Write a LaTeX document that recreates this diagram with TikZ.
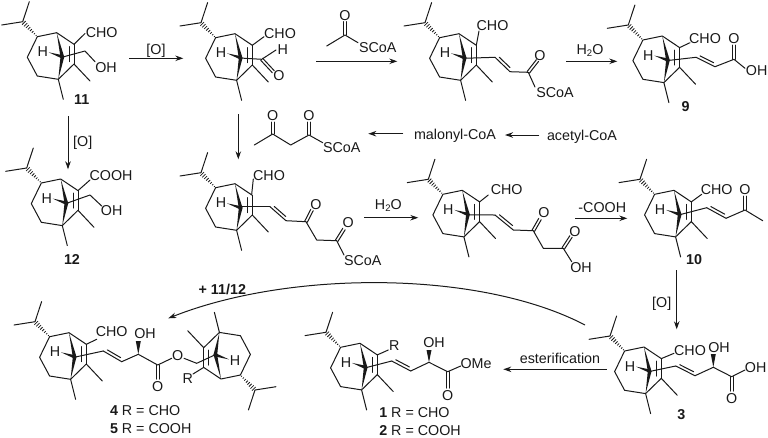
\documentclass[tikz,border=0pt]{standalone}
\usepackage{fontspec}
\setmainfont{Liberation Sans}
\usetikzlibrary{calc,arrows.meta}
\newcommand\dbl[3]{\draw[bond] #1 -- #2; \draw[bond] ($#1!0.14!#2!#3!90:#2$) -- ($#1!0.86!#2!#3!90:#2$);}
\newcommand\dsym[2]{\draw[bond] ($#1!1.4pt!90:#2$) -- ($#2!1.4pt!-90:#1$); \draw[bond] ($#1!1.4pt!-90:#2$) -- ($#2!1.4pt!90:#1$);}
\newcommand\subtwo{\raisebox{-2.5pt}{\fontsize{9.5}{9.5}\selectfont 2}}
\tikzset{
  bond/.style={line width=1pt,line cap=round,line join=round,draw=black!90},
  rxn/.style={line width=1pt,draw=black!90,-{Stealth[length=8pt,width=5.5pt]}},
  lab/.style={inner sep=0pt,outer sep=0pt,text height=10.3pt,text depth=0pt,font=\fontsize{14.3}{14.3}\selectfont,text=black!90},
  skel/.pic={
    \draw[bond] (0,0) -- (-21,3.3) (0,0) -- (6.6,-20);
    \foreach \t/\w in {0.08/2.6,0.2/2.3,0.32/2.0,0.44/1.7,0.56/1.4,0.68/1.1,0.8/0.8,0.92/0.5}
      \draw[line width=0.8pt,draw=black!90] ({14.6*\t+0.7*\w},{15*\t-0.7*\w}) -- ({14.6*\t-0.7*\w},{15*\t+0.7*\w});
    \draw[bond] (14.6,15) -- (34,11) -- (51.3,22.6) (14.6,15) -- (4.6,35.6) -- (14.6,54.3) -- (35.6,57.6) -- (51.3,42.3) -- (67.3,59.3) (35.6,57.6) -- (40.6,77.6);
    \draw[bond] (51.3,22.6) -- (51.3,42.3) (46.3,25) -- (46.3,40);
    \fill[black!90] (34,11) -- (37.8,35.5) -- (41.6,35.5) -- cycle;
    \fill[black!90] (35.6,57.6) -- (37.8,35) -- (41.6,35) -- cycle;
    \fill[black!90] (26,30.6) -- (39.5,33.4) -- (38.5,36.4) -- cycle;
    \node[lab] (H) at (20,30) {H};
  }
}
\begin{document}
\begin{tikzpicture}[x=1pt,y=-1pt]
\useasboundingbox (0,0) rectangle (768,437);
\fill[white] (0,0) rectangle (768,437);
% skeletons
\pic (s11) at (22.7,21.7) {skel};
\pic (sa) at (201,22.7) {skel};
\pic (sb) at (425,22.7) {skel};
\pic (s9) at (628.3,25) {skel};
\pic (s12) at (26.7,168) {skel};
\pic (sc) at (201,172.7) {skel};
\pic (sd) at (428.3,179.3) {skel};
\pic (s10) at (640,179.3) {skel};
\pic (s4) at (35,321.7) {skel};
\pic (s4b) [rotate=180] at (255,390) {skel};
\pic (s1) at (326,332.3) {skel};
\pic (s3) at (610,336) {skel};
% 11
\draw[bond] (74,44.3) -- (85,33.5);
\draw[bond] (61.7,57.3) -- (85,51) -- (95,61.7);
\node[lab] (n11cho) at (101.7,32.7) {CHO};
\node[lab] (n11oh) at (106,67.3) {OH};
\node[lab,font=\fontsize{14.3}{14.3}\selectfont\bfseries] (n11) at (81.7,99.3) {11};
% aldehyde intermediate
\draw[bond] (252.3,45.3) -- (264,36.7);
\draw[bond] (240,58) -- (261.7,59.3) -- (276,50);
\dsym{(261.7,59.3)}{(273.3,71.7)}
\node[lab] (nacho) at (280,33.7) {CHO};
\node[lab] (nah) at (282.7,49.3) {H};
\node[lab] (nao) at (279,75) {O};
% acetyl SCoA
\draw[bond] (326.7,46) -- (345,35) -- (358,42.7);
\dsym{(345,35)}{(345,21.5)}
\node[lab] (raco) at (345,15) {O};
\node[lab] (racs) at (377.7,47.3) {SCoA};
% top third
\draw[bond] (476.3,45.3) -- (479,31);
\draw[bond] (464,58.3) -- (495,57.3);
\dbl{(495,57.3)}{(510,71.7)}{3pt}
\draw[bond] (510,71.7) -- (528.3,72.3) -- (535,87);
\dsym{(528.3,72.3)}{(537.5,60.5)}
\node[lab] (nbcho) at (492.5,25) {CHO};
\node[lab] (nbo) at (540,55) {O};
\node[lab] (nbs) at (555,92.7) {SCoA};
% 9
\draw[bond] (679.6,47.6) -- (690,42.7);
\draw[bond] (667,60.6) -- (696,57.3);
\dbl{(696,57.3)}{(715,66.7)}{3pt}
\draw[bond] (715,66.7) -- (734,59.3) -- (745,68.3);
\dsym{(734,59.3)}{(734,45)}
\node[lab] (n9cho) at (705,38.3) {CHO};
\node[lab] (n9o) at (734,38.3) {O};
\node[lab] (n9oh) at (756.7,70.7) {OH};
\node[lab,font=\fontsize{14.3}{14.3}\selectfont\bfseries] (n9) at (685.7,106.7) {9};
% 12
\draw[bond] (78,190.6) -- (90,180);
\draw[bond] (65.7,203.6) -- (90,195) -- (101.7,206);
\node[lab] (n12c) at (111,175.7) {COOH};
\node[lab] (n12oh) at (111.7,210) {OH};
\node[lab,font=\fontsize{14.3}{14.3}\selectfont\bfseries] (n12) at (72,259) {12};
% middle C
\draw[bond] (251.7,194.3) -- (253.3,179);
\draw[bond] (240,206.7) -- (270,206.7);
\dbl{(270,206.7)}{(286,220.7)}{3pt}
\draw[bond] (286,220.7) -- (306,221.7) -- (316.7,240) -- (336.7,240.7) -- (344,255);
\dsym{(306,221.7)}{(312,210)}
\dsym{(336.7,240.7)}{(344,229)}
\node[lab] (nccho) at (269,175) {CHO};
\node[lab] (nco1) at (316,204.3) {O};
\node[lab] (nco2) at (348.3,222.7) {O};
\node[lab] (ncs) at (362.7,260) {SCoA};
% acetoacetyl
\draw[bond] (254.3,145) -- (272.7,134) -- (290.7,145) -- (309,135) -- (322.7,142.7);
\dsym{(272.7,134)}{(272.7,122)}
\dsym{(309,135)}{(309,122)}
\node[lab] (rmo1) at (272.7,115.7) {O};
\node[lab] (rmo2) at (309,115.7) {O};
\node[lab] (rms) at (341.7,147.7) {SCoA};
\node[lab] (rmal) at (455,134) {malonyl-CoA};
\node[lab] (race) at (582,135) {acetyl-CoA};
% middle D
\draw[bond] (479.6,201.9) -- (488.3,195);
\draw[bond] (467.3,214.9) -- (495,215);
\dbl{(495,215)}{(513.3,230)}{3pt}
\draw[bond] (513.3,230) -- (533.3,230.7) -- (543.3,248.3) -- (563.3,248.3) -- (571.7,261.7);
\dsym{(533.3,230.7)}{(540,219)}
\dsym{(563.3,248.3)}{(571,236.5)}
\node[lab] (ndcho) at (506.7,189) {CHO};
\node[lab] (ndo1) at (544,212.7) {O};
\node[lab] (ndo2) at (575,231) {O};
\node[lab] (ndoh) at (581,267.3) {OH};
% 10
\draw[bond] (691.3,201.9) -- (701.7,194.3);
\draw[bond] (679,214.9) -- (706.7,207.7);
\dbl{(706.7,207.7)}{(726,218.3)}{3pt}
\draw[bond] (726,218.3) -- (745,210) -- (762.7,220.7);
\dsym{(745,210)}{(745,196)}
\node[lab] (n10cho) at (716.7,189.3) {CHO};
\node[lab] (n10o) at (745,189.3) {O};
\node[lab,font=\fontsize{14.3}{14.3}\selectfont\bfseries] (n10) at (694,259) {10};
% 3
\draw[bond] (661.3,358.6) -- (674,353.3);
\draw[bond] (649,371.6) -- (675.7,366);
\dbl{(675.7,366)}{(695,375.7)}{3pt}
\draw[bond] (695,375.7) -- (713.3,367.3) -- (731.7,376.7) -- (745,370);
\dsym{(731.7,376.7)}{(731.7,391)}
\fill[black!90] (713.3,367.3) -- (710.8,354) -- (715.8,354) -- cycle;
\node[lab] (n3cho) at (690,350) {CHO};
\node[lab] (n3oh1) at (719,347.3) {OH};
\node[lab] (n3oh2) at (755.7,367.3) {OH};
\node[lab] (n3o) at (731.7,398.3) {O};
\node[lab,font=\fontsize{14.3}{14.3}\selectfont\bfseries] (n3) at (681.3,414) {3};
% 1
\draw[bond] (377.3,354.9) -- (388.3,350);
\draw[bond] (365,367.9) -- (391.7,361);
\dbl{(391.7,361)}{(410.7,371)}{3pt}
\draw[bond] (410.7,371) -- (429,362.3) -- (447.7,371.7) -- (460.7,366);
\dsym{(447.7,371.7)}{(447.7,388)}
\fill[black!90] (429,362.3) -- (426.5,350) -- (431.5,350) -- cycle;
\node[lab] (n1r) at (394.3,345.7) {R};
\node[lab] (n1oh) at (434,342.7) {OH};
\node[lab] (n1ome) at (476,363.3) {OMe};
\node[lab] (n1o) at (447.7,395) {O};
\node[lab,anchor=west] (n1) at (379.3,412.7) {\textbf{1} R = CHO};
\node[lab,anchor=west] (n2) at (379.3,430) {\textbf{2} R = COOH};
% 4/5
\draw[bond] (86.3,344.3) -- (96.7,339.3);
\draw[bond] (74,357.3) -- (103.3,351);
\dbl{(103.3,351)}{(121.7,361.7)}{3pt}
\draw[bond] (121.7,361.7) -- (138.3,354.3) -- (157.7,365) -- (171.7,358.3);
\dsym{(157.7,365)}{(157.7,379)}
\fill[black!90] (138.3,354.3) -- (135.8,341) -- (140.8,341) -- cycle;
\draw[bond] (184,358.3) -- (196.7,363.3) -- (216,354.4);
\draw[bond] (203.7,367.4) -- (193,374);
\node[lab] (n4cho) at (111.7,331.7) {CHO};
\node[lab] (n4oh) at (145,333.3) {OH};
\node[lab] (n4o1) at (157.7,386.7) {O};
\node[lab] (n4o2) at (177.7,355) {O};
\node[lab] (n4r) at (187.7,378.3) {R};
\node[lab,anchor=west] (n4) at (110,410.7) {\textbf{4} R = CHO};
\node[lab,anchor=west] (n5) at (110,428.3) {\textbf{5} R = COOH};
% reaction arrows
\coordinate (a1s) at (129,58.3); \coordinate (a1e) at (183.3,58.3);
\draw[rxn] (a1s) -- (a1e);
\node[lab] (t1) at (156,49.3) {[O]};
\coordinate (a2s) at (316,61.3); \coordinate (a2e) at (397.3,61.3);
\draw[rxn] (a2s) -- (a2e);
\coordinate (a3s) at (566,61.3); \coordinate (a3e) at (617.3,61.3);
\draw[rxn] (a3s) -- (a3e);
\node[lab] (t3) at (590,49) {H\subtwo O};
\coordinate (a4s) at (68,116); \coordinate (a4e) at (68,169.3);
\draw[rxn] (a4s) -- (a4e);
\node[lab] (t4) at (82.7,141.7) {[O]};
\coordinate (a5s) at (238.3,114.3); \coordinate (a5e) at (238.3,159.3);
\draw[rxn] (a5s) -- (a5e);
\coordinate (a6s) at (403.3,133.7); \coordinate (a6e) at (368.3,133.7);
\draw[rxn] (a6s) -- (a6e);
\coordinate (a7s) at (539.3,135); \coordinate (a7e) at (505,135);
\draw[rxn] (a7s) -- (a7e);
\coordinate (a8s) at (364.3,217.7); \coordinate (a8e) at (418.3,217.7);
\draw[rxn] (a8s) -- (a8e);
\node[lab] (t8) at (388.3,204.3) {H\subtwo O};
\coordinate (a9s) at (575,218.3); \coordinate (a9e) at (627.3,218.3);
\draw[rxn] (a9s) -- (a9e);
\node[lab] (t9) at (602.3,207.3) {-COOH};
\coordinate (a10s) at (676.7,270); \coordinate (a10e) at (676.7,329.3);
\draw[rxn] (a10s) -- (a10e);
\node[lab] (t10) at (661.7,302.3) {[O]};
\coordinate (a11s) at (606.7,369.3); \coordinate (a11e) at (503.3,369.3);
\draw[rxn] (a11s) -- (a11e);
\node[lab] (t11) at (560,358) {esterification};
\coordinate (a12s) at (585,325); \coordinate (a12e) at (168.3,318.3);
\draw[rxn] (a12s) .. controls (480,270) and (290,270) .. (a12e);
\node[lab,font=\fontsize{14.3}{14.3}\selectfont\bfseries] (t12) at (222.3,289.3) {+ 11/12};
\end{tikzpicture}
\end{document}
